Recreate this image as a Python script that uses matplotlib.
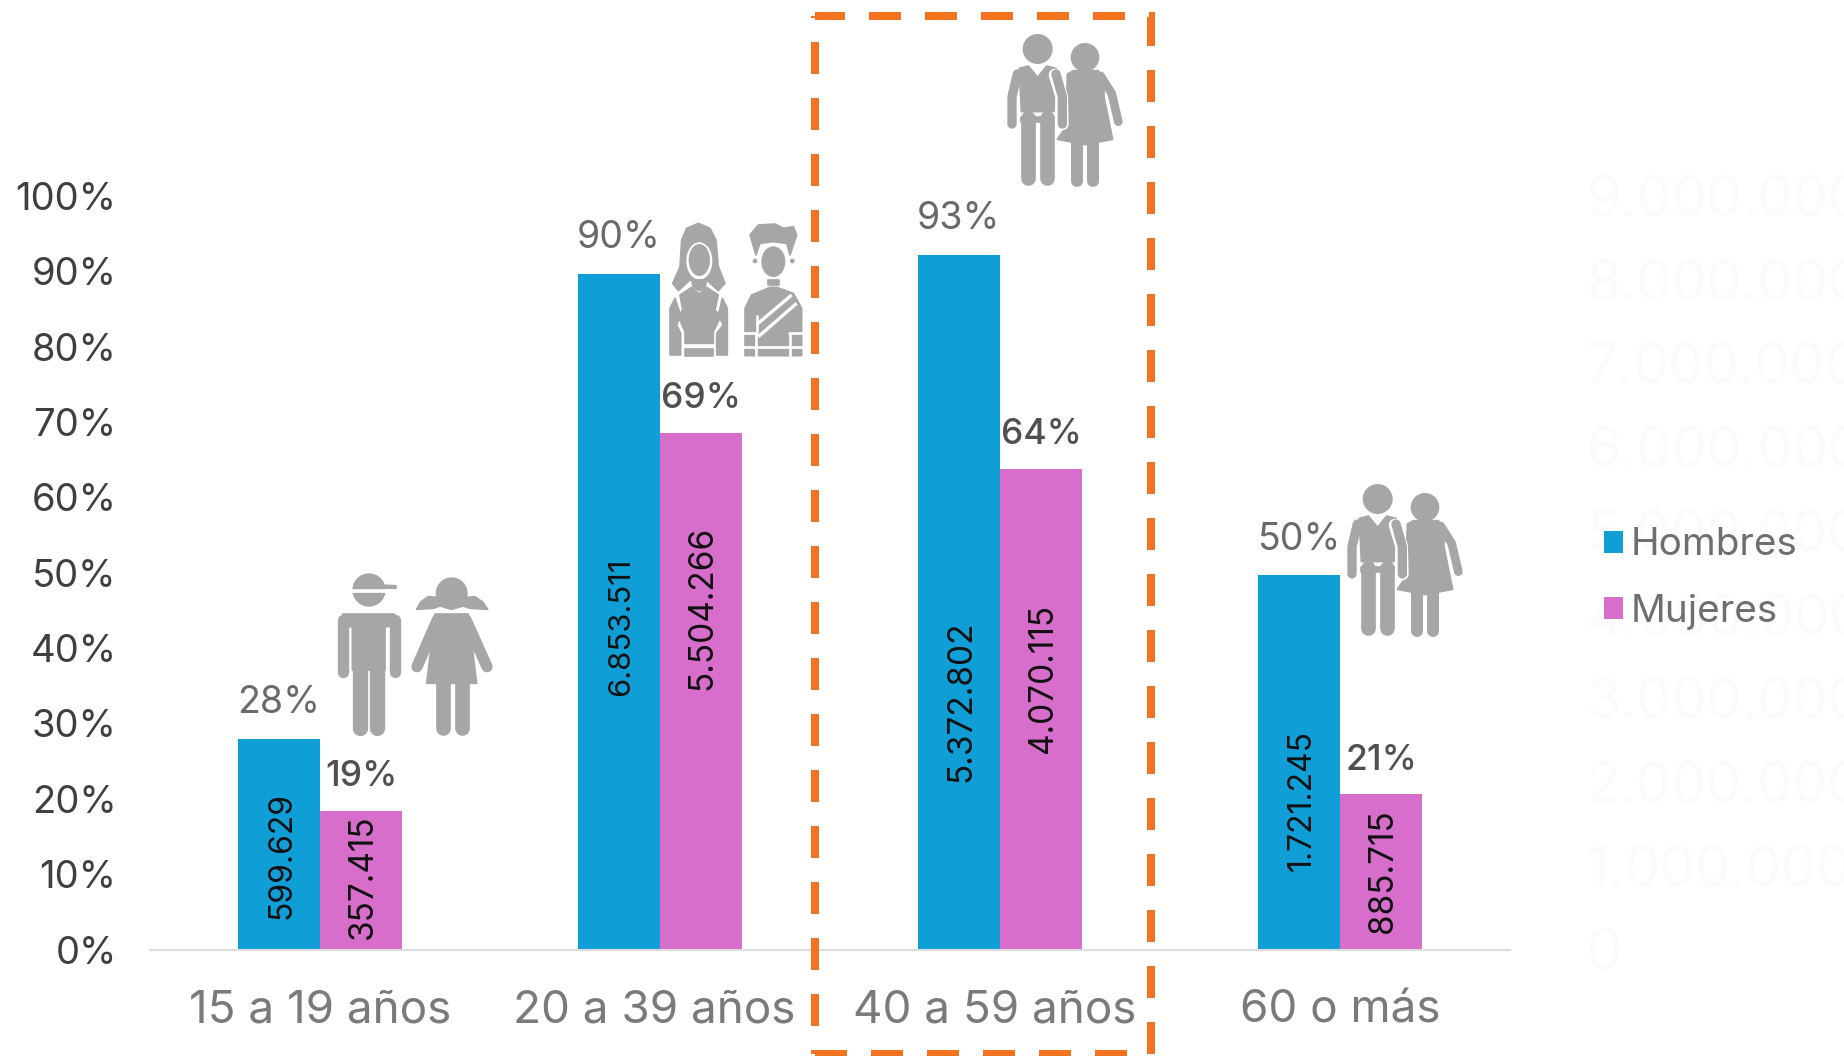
import matplotlib
matplotlib.use("Agg")
import matplotlib.pyplot as plt
from matplotlib.patches import Circle, Ellipse, Polygon
from matplotlib.ticker import FuncFormatter
import numpy as np

plt.rcParams['font.family'] = ['Inter', 'DejaVu Sans']

categories = ['15 a 19 años', '20 a 39 años', '40 a 59 años', '60 o más']
hombres_pct = [28.0, 89.7, 92.2, 49.7]
mujeres_pct = [18.4, 68.6, 63.8, 20.6]
hombres_lbl = ['28%', '90%', '93%', '50%']
mujeres_lbl = ['19%', '69%', '64%', '21%']
hombres_n = ['599.629', '6.853.511', '5.372.802', '1.721.245']
mujeres_n = ['357.415', '5.504.266', '4.070.115', '885.715']
ghost_ticks = [0, 1e6, 2e6, 3e6, 4e6, 5e6, 6e6, 7e6, 8e6, 9e6]

# layout only
hombres_n_y = [12.5, 42.8, 32.9, 19.8]
mujeres_n_y = [9.7, 45.3, 36.0, 10.4]
hombres_n_size = [23, 22.4, 24, 23]
cat_shift = [0.0, -0.017, -0.017, 0.0]

W, H = 1844, 1056
BLUE, PINK, GREY, ORANGE = '#0F9ED5', '#D86ECC', '#A6A6A6', '#F47321'

fig = plt.figure(figsize=(W / 100, H / 100), dpi=100, facecolor='white')
ax = fig.add_axes([150 / W, 1 - 949.5 / H, (1510 - 150) / W, (949.5 - 196) / H])
x = np.arange(len(categories))
bw = 0.242
b1 = ax.bar(x - bw / 2, hombres_pct, bw, color=BLUE, label='Hombres')
b2 = ax.bar(x + bw / 2, mujeres_pct, bw, color=PINK, label='Mujeres')
ax.set_xlim(-0.5, 3.5)
ax.set_ylim(0, 100)
ax.set_yticks(range(0, 101, 10))
ax.yaxis.set_major_formatter(FuncFormatter(lambda v, _: f'{int(v)}%'))
ax.set_xticks(x + np.array(cat_shift))
ax.set_xticklabels(categories)
ax.tick_params(axis='y', length=0, pad=24, labelsize=27.5, labelcolor='#3F3F3F')
ax.tick_params(axis='x', length=0, pad=29, labelsize=33, labelcolor='#7A7A7A')
for s in ['top', 'left', 'right']:
    ax.spines[s].set_visible(False)
ax.spines['bottom'].set_color('#DDDDDD')
ax.spines['bottom'].set_linewidth(1.5)

for i in x:
    ax.annotate(hombres_lbl[i], (i - bw / 2, hombres_pct[i]), xytext=(0, 25.5), textcoords='offset points',
                ha='center', va='center', fontsize=27, color='#6A6A6A', annotation_clip=False)
    ax.annotate(mujeres_lbl[i], (i + bw / 2, mujeres_pct[i]), xytext=(0, 24.5), textcoords='offset points',
                ha='center', va='center', fontsize=25.5, color='#505050', fontweight='medium', annotation_clip=False)
    ax.text(i - bw / 2 + 0.008, hombres_n_y[i], hombres_n[i], rotation=90, ha='center', va='center',
            fontsize=hombres_n_size[i], color='#111111')
    ax.text(i + bw / 2 + 0.004, mujeres_n_y[i], mujeres_n[i], rotation=90, ha='center', va='center',
            fontsize=24, color='#111111')

# almost invisible right-hand axis
ax_r = ax.twinx()
ax_r.set_ylim(0, 9e6)
ax_r.set_yticks(ghost_ticks)
ax_r.yaxis.set_major_formatter(FuncFormatter(lambda v, _: f'{int(v):,}'.replace(',', '.')))
ax_r.tick_params(axis='y', length=0, pad=55, labelsize=40, labelcolor='#FBFBFB')
for s in ax_r.spines.values():
    s.set_visible(False)

leg = fig.legend(handles=[b1, b2], loc='center left', bbox_to_anchor=(1604 / W, 1 - 578.5 / H), frameon=False,
                 fontsize=27.8, labelcolor='#6E6E6E', handlelength=0.5, handleheight=0.5,
                 handletextpad=0.18, labelspacing=0.78, borderpad=0, borderaxespad=0)

# overlay in pixel coordinates: icons and dashed frame
ov = fig.add_axes([0, 0, 1, 1], facecolor='none', zorder=5)
ov.set_xlim(0, W)
ov.set_ylim(H, 0)
ov.axis('off')
PX = 0.72


class Icon:
    def __init__(self, ox, oy, s=3.0):
        self.ox, self.oy, self.s = ox, oy, s

    def pt(self, p):
        return (self.ox + p[0] / self.s, self.oy + p[1] / self.s)

    def circle(self, c, r, col=GREY):
        ov.add_patch(Circle(self.pt(c), r / self.s, fc=col, ec='none'))

    def ell(self, c, w, h, col=GREY):
        ov.add_patch(Ellipse(self.pt(c), w / self.s, h / self.s, fc=col, ec='none'))

    def poly(self, pts, col=GREY):
        ov.add_patch(Polygon([self.pt(p) for p in pts], closed=True, fc=col, ec=col, lw=1.2, joinstyle='round'))

    def line(self, pts, w, col=GREY, cap='round'):
        xs, ys = zip(*[self.pt(p) for p in pts])
        ov.plot(xs, ys, color=col, lw=w / self.s * PX, solid_capstyle=cap, solid_joinstyle='round')


# boy
a = Icon(320, 540)
a.circle((147, 150), 50)
a.poly([(95, 150), (200, 150), (200, 157), (95, 157)], 'white')
a.line([(190, 140), (225, 141)], 13)
a.line([(68, 240), (68, 395)], 34)
a.line([(224, 240), (224, 395)], 34)
a.poly([(68, 222), (224, 222), (224, 255), (195, 262), (195, 390), (97, 390), (97, 262), (68, 255)])
a.line([(120, 380), (120, 565)], 46)
a.line([(172, 380), (172, 565)], 46)
# girl
a.circle((395, 160), 48)
a.poly([(290, 208), (302, 186), (325, 170), (350, 172), (365, 198), (425, 198), (440, 172), (465, 170),
        (488, 186), (503, 208), (450, 205), (430, 198), (395, 208), (360, 198), (340, 205)])
a.line([(352, 240), (291, 380)], 34)
a.line([(438, 240), (501, 380)], 34)
a.poly([(345, 222), (445, 222), (470, 430), (320, 430)])
a.line([(368, 425), (368, 565)], 44)
a.line([(425, 425), (425, 565)], 44)

# young woman and young man
a = Icon(650, 200)
a.poly([(95, 120), (110, 85), (145, 70), (180, 85), (198, 120), (205, 200), (225, 250), (205, 272),
        (170, 240), (120, 240), (85, 272), (68, 250), (90, 200)])
a.ell((148, 183), 78, 112, 'white')
a.ell((148, 180), 64, 96)
a.poly([(125, 240), (170, 240), (165, 262), (148, 272), (130, 262)])
a.poly([(90, 285), (125, 262), (148, 282), (170, 262), (205, 285), (195, 330), (212, 350), (190, 395),
        (190, 430), (105, 430), (105, 395), (85, 350), (98, 330)])
a.poly([(60, 465), (60, 325), (75, 295), (92, 345), (80, 375), (92, 400), (92, 465)])
a.poly([(232, 465), (232, 325), (217, 295), (205, 345), (220, 375), (200, 400), (200, 465)])
a.poly([(105, 447), (190, 447), (190, 467), (105, 467)])
# man
a.poly([(300, 105), (325, 75), (375, 72), (400, 85), (430, 80), (440, 105), (420, 165), (410, 130),
        (370, 125), (330, 130), (318, 165)])
a.ell((370, 185), 72, 92)
a.circle((315, 183), 7)
a.circle((427, 183), 7)
a.poly([(355, 240), (387, 240), (387, 254), (355, 254)])
a.poly([(285, 467), (285, 325), (305, 285), (360, 262), (380, 262), (430, 280), (455, 325), (455, 467)])
a.line([(322, 395), (322, 345)], 8, 'white', 'butt')
a.line([(322, 372), (425, 285)], 10, 'white', 'butt')
a.line([(325, 410), (440, 310)], 10, 'white', 'butt')
a.line([(280, 400), (325, 400)], 8, 'white', 'butt')
a.line([(415, 400), (460, 400)], 8, 'white', 'butt')
a.line([(280, 440), (460, 440)], 8, 'white', 'butt')
a.line([(318, 400), (318, 470)], 8, 'white', 'butt')
a.line([(420, 400), (420, 470)], 8, 'white', 'butt')


def couple(dx, dy):
    c = Icon(980 + dx, 0 + dy)
    # woman behind
    c.circle((315, 172), 43)
    c.line([(362, 228), (395, 280), (415, 365)], 26)
    c.poly([(262, 222), (280, 212), (355, 212), (372, 240), (372, 290), (398, 418), (315, 434), (232, 418),
            (258, 380)])
    c.line([(290, 430), (290, 542)], 36)
    c.line([(338, 430), (338, 542)], 36)
    # man, with white halo
    c.line([(225, 225), (245, 290), (247, 372)], 38, 'white')
    c.circle((173, 147), 45)
    c.line([(112, 222), (96, 290), (96, 372)], 28)
    c.line([(228, 222), (247, 290), (247, 372)], 28)
    c.poly([(118, 205), (145, 198), (173, 232), (200, 198), (228, 205), (222, 335), (124, 335)])
    c.poly([(124, 350), (222, 350), (222, 365), (124, 365)])
    c.line([(145, 355), (145, 535)], 44)
    c.line([(200, 355), (200, 535)], 44)


couple(0, 0)
couple(340, 450)

# dashed highlight frame
ov.plot([815, 1151, 1151, 815], [16, 16, 1054, 1054], color=ORANGE, lw=8 * PX,
        linestyle=(0.25, (4, 3)), dash_capstyle='butt', dash_joinstyle='miter')
ov.plot([815, 815], [1054, 16], color=ORANGE, lw=8 * PX,
        linestyle=(3.5, (4, 3)), dash_capstyle='butt')

fig.savefig('out.png', dpi=100, facecolor='white')
